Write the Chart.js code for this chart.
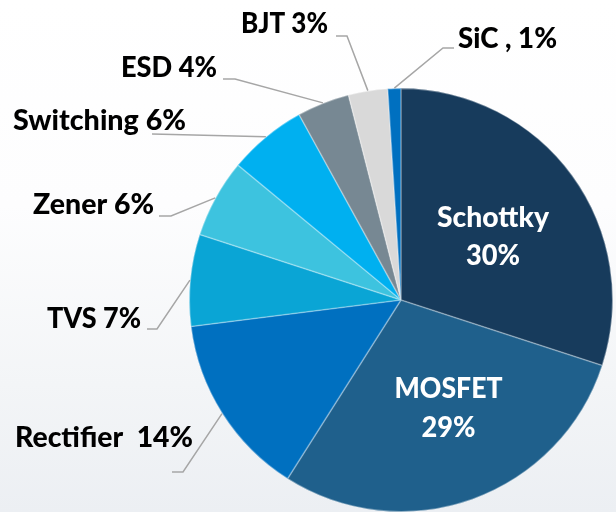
<!DOCTYPE html>
<html>
<head>
<meta charset="utf-8">
<script src="https://cdn.jsdelivr.net/npm/chart.js@4/dist/chart.umd.min.js"></script>
<style>
  html, body { margin: 0; padding: 0; }
  body {
    width: 616px; height: 512px; overflow: hidden;
    background: linear-gradient(to bottom, #ffffff 0%, #fdfdfe 40%, #f3f5f7 75%, #eceff3 100%);
  }
  #wrap { position: relative; width: 616px; height: 512px; }
  canvas { display: block; }
</style>
</head>
<body>
<div id="wrap"><canvas id="c" width="616" height="512"></canvas></div>
<script>
// ---- data ----
const categories = ['Schottky', 'MOSFET', 'Rectifier', 'TVS', 'Zener', 'Switching', 'ESD', 'BJT', 'SiC'];
const shares = [30, 29, 14, 7, 6, 6, 4, 3, 1];
const labelTexts = [
  ['Schottky', '30%'],
  ['MOSFET', '29%'],
  ['Rectifier  14%'],
  ['TVS 7%'],
  ['Zener 6%'],
  ['Switching 6%'],
  ['ESD 4%'],
  ['BJT 3%'],
  ['SiC , 1%']
];

// ---- styles ----
const sliceColors = ['#173B5C', '#1F608C', '#0070C0', '#0AA5D5', '#3DC3DF', '#00B0F0', '#778893', '#D9D9D9', '#0070C0'];
const FONT = '900 28px Lato, "Open Sans", sans-serif';

// ---- label layout (annotation placement only) ----
const labelLayout = [
  { inner: true, cx: 493, ys: [227, 265], ws: [112, 54] },
  { inner: true, cx: 448.5, ys: [398, 437], ws: [108, 54] },
  { x: 15, y: 447, w: 178, leader: [[172, 472], [183, 472]] },
  { x: 47, y: 328, w: 94, leader: [[147, 329], [157, 329]] },
  { x: 33, y: 214, w: 121, leader: [[159, 216], [171, 216]] },
  { x: 13, y: 130, w: 173, leader: [[152, 134]] },
  { x: 121, y: 77, w: 96, leader: [[223, 79], [235, 79]] },
  { x: 241, y: 33, w: 87, leader: [[336, 36], [347, 36]] },
  { x: 458, y: 48, w: 99, leader: [[454, 48], [443, 48]] }
];

function drawFitted(ctx, text, x, y, w, align) {
  const nat = ctx.measureText(text).width;
  const sx = w / nat;
  ctx.save();
  ctx.translate(x, y);
  ctx.scale(sx, 1);
  ctx.fillText(text, align === 'center' ? -nat / 2 : 0, 0);
  ctx.restore();
}

const labelPlugin = {
  id: 'pieLabels',
  afterDatasetsDraw(chart) {
    const ctx = chart.ctx;
    const meta = chart.getDatasetMeta(0);
    ctx.save();
    ctx.font = FONT;
    ctx.textBaseline = 'alphabetic';
    meta.data.forEach((arc, i) => {
      const L = labelLayout[i];
      const texts = labelTexts[i];
      if (L.inner) {
        ctx.fillStyle = '#ffffff';
        texts.forEach((t, k) => drawFitted(ctx, t, L.cx, L.ys[k], L.ws[k], 'center'));
      } else {
        const p = arc.getProps(['x', 'y', 'startAngle', 'endAngle', 'outerRadius'], true);
        const mid = (p.startAngle + p.endAngle) / 2;
        const ex = p.x + Math.cos(mid) * p.outerRadius;
        const ey = p.y + Math.sin(mid) * p.outerRadius;
        ctx.strokeStyle = '#A6A6A6';
        ctx.lineWidth = 1.5;
        ctx.beginPath();
        L.leader.forEach((pt, k) => k === 0 ? ctx.moveTo(pt[0], pt[1]) : ctx.lineTo(pt[0], pt[1]));
        ctx.lineTo(ex, ey);
        ctx.stroke();
        ctx.fillStyle = '#000000';
        drawFitted(ctx, texts[0], L.x, L.y, L.w, 'left');
      }
    });
    ctx.restore();
  }
};

function make() {
  new Chart(document.getElementById('c'), {
    type: 'pie',
    data: {
      labels: categories,
      datasets: [{
        data: shares,
        backgroundColor: sliceColors,
        borderColor: 'rgba(255,255,255,0.35)',
        borderWidth: 0.8,
        borderAlign: 'inner',
        hoverOffset: 0,
        offset: 0,
        radius: 212
      }]
    },
    options: {
      responsive: false,
      devicePixelRatio: 1,
      animation: false,
      events: [],
      layout: { padding: { left: 189, right: 3, top: 88, bottom: 0 } },
      plugins: { legend: { display: false }, tooltip: { enabled: false } }
    },
    plugins: [labelPlugin]
  });
}

if (document.fonts && document.fonts.load) {
  document.fonts.load(FONT).then(make, make);
} else {
  make();
}
</script>
</body>
</html>
